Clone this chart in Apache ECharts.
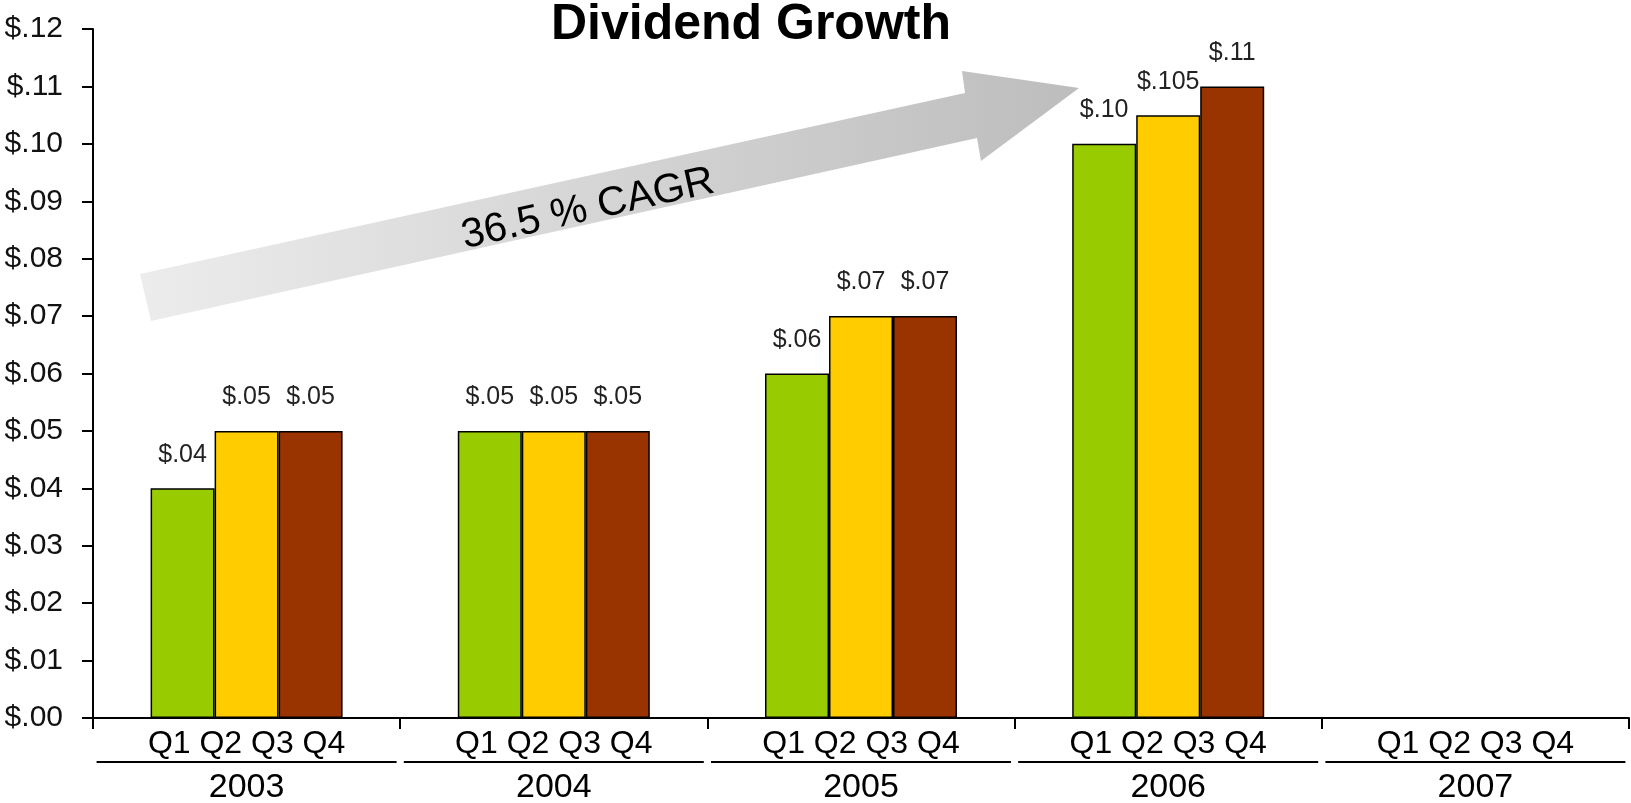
<!DOCTYPE html>
<html>
<head>
<meta charset="utf-8">
<script src="https://cdn.jsdelivr.net/npm/echarts@6/dist/echarts.min.js"></script>
<style>
html,body{margin:0;padding:0;background:#fff;}
#chart{width:1631px;height:803px;}
</style>
</head>
<body>
<div id="chart"></div>
<script>
// ---- data ----
const years = ['2003', '2004', '2005', '2006', '2007'];
const quarterText = 'Q1 Q2 Q3 Q4';
const seriesNames = ['Q1', 'Q2', 'Q3'];
const q1Values = [0.04, 0.05, 0.06, 0.10, null];
const q2Values = [0.05, 0.05, 0.07, 0.105, null];
const q3Values = [0.05, 0.05, 0.07, 0.11, null];
const yMin = 0, yMax = 0.12, yStep = 0.01;
const titleText = 'Dividend Growth';
const arrowText = '36.5 % CAGR';

const colors = ['#99cc00', '#ffcc00', '#993300'];
const sans = '"Liberation Sans", Arial, sans-serif';

function money(v) {
  const s = (Math.round(v * 1000) % 10 !== 0) ? v.toFixed(3) : v.toFixed(2);
  return '$' + s.replace(/^0/, '');
}

const chart = echarts.init(document.getElementById('chart'));

function barSeries(name, data, color) {
  return {
    name: name,
    type: 'bar',
    data: data,
    barWidth: 64,
    barGap: '0%',
    itemStyle: { color: color, borderColor: '#000', borderWidth: 1.5 },
    label: {
      show: true,
      position: 'top',
      distance: 21,
      fontFamily: sans,
      fontSize: 25,
      color: '#222',
      formatter: p => money(p.value)
    },
    z: 3
  };
}

const option = {
  backgroundColor: '#fff',
  animation: false,
  grid: { left: 93, right: 2, top: 29, bottom: 85, containLabel: false, outerBoundsMode: 'none' },
  xAxis: {
    type: 'category',
    data: years,
    boundaryGap: true,
    axisLine: { lineStyle: { color: '#000', width: 2 } },
    axisTick: { show: true, length: 11, lineStyle: { color: '#000', width: 2 } },
    axisLabel: {
      interval: 0,
      margin: 12,
      formatter: v => '{q|' + quarterText + '}\n{u| }\n{y|' + v + '}',
      rich: {
        q: { fontFamily: sans, fontSize: 32, lineHeight: 28, color: '#000' },
        u: { fontSize: 1, width: 300, height: 2, lineHeight: 8, backgroundColor: '#000' },
        y: { fontFamily: sans, fontSize: 34, lineHeight: 44, color: '#000' }
      }
    }
  },
  yAxis: {
    type: 'value',
    min: yMin,
    max: yMax,
    interval: yStep,
    splitLine: { show: false },
    axisLine: { show: true, lineStyle: { color: '#000', width: 2 } },
    axisTick: { show: true, length: 11, lineStyle: { color: '#000', width: 2 } },
    axisLabel: {
      margin: 30,
      fontFamily: sans,
      fontSize: 30,
      color: '#111',
      formatter: v => money(v)
    }
  },
  series: [
    barSeries(seriesNames[0], q1Values, colors[0]),
    barSeries(seriesNames[1], q2Values, colors[1]),
    barSeries(seriesNames[2], q3Values, colors[2])
  ],
  graphic: [
    {
      type: 'polygon',
      z: 1,
      shape: {
        points: [[140, 274], [151, 321], [977, 138], [981, 161], [1079, 88], [962, 71], [965, 93]]
      },
      style: {
        fill: {
          type: 'linear', x: 0, y: 0, x2: 1, y2: 0,
          colorStops: [{ offset: 0, color: '#ececec' }, { offset: 1, color: '#bdbdbd' }]
        }
      }
    },
    {
      type: 'text',
      z: 2,
      x: 588,
      y: 209,
      rotation: 0.22,
      style: {
        text: arrowText,
        font: '41px ' + sans,
        fill: '#000',
        align: 'center',
        verticalAlign: 'middle'
      }
    },
    {
      type: 'text',
      z: 5,
      x: 751,
      y: 25,
      style: {
        text: titleText,
        font: 'bold 50px ' + sans,
        fill: '#000',
        align: 'center',
        verticalAlign: 'middle'
      }
    }
  ]
};
chart.setOption(option);
</script>
</body>
</html>
